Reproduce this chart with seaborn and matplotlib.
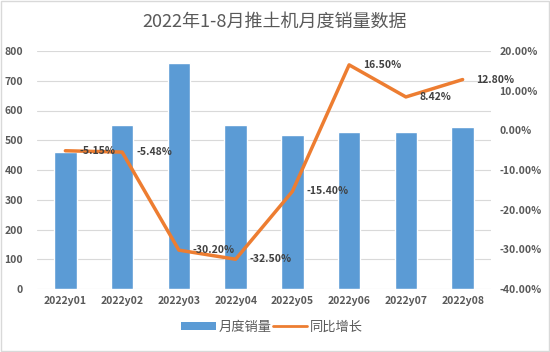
import matplotlib
matplotlib.use("Agg")
import matplotlib.pyplot as plt
import seaborn as sns
import pandas as pd
import numpy as np

months = ["2022y01", "2022y02", "2022y03", "2022y04", "2022y05", "2022y06", "2022y07", "2022y08"]
sales = [460, 551, 758, 550, 518, 529, 529, 545]
growth = [-5.15, -5.48, -30.20, -32.50, -15.40, 16.50, 8.42, 12.80]
growth_labels = ["-5.15%", "-5.48%", "-30.20%", "-32.50%", "-15.40%", "16.50%", "8.42%", "12.80%"]
left_ticks = [0, 100, 200, 300, 400, 500, 600, 700, 800]
right_ticks = [-40, -30, -20, -10, 0, 10, 20]

sns.set_theme(style="white")
plt.rcParams['font.family'] = ['Noto Sans CJK SC', 'DejaVu Sans']

df = pd.DataFrame({"month": months, "sales": sales, "growth": growth})

fig = plt.figure(figsize=(5.5, 3.52), dpi=100)
ax = fig.add_axes([37/550, (352-289)/352, (491-37)/550, (289-51)/352])

blue = "#5B9BD5"
orange = "#ED7D31"
grey_txt = "#595959"

sns.barplot(data=df, x="month", y="sales", color=blue, width=0.4, ax=ax, saturation=1, zorder=2)
ax.set_ylim(0, 800)
ax.set_yticks(left_ticks)
ax.set_xlim(-0.5, len(months) - 0.5)
ax.grid(axis="y", color="#D9D9D9", linewidth=0.8, zorder=0)
ax.set_axisbelow(True)
for s in ax.spines.values():
    s.set_visible(False)
ax.set_xlabel("")
ax.set_ylabel("")
ax.tick_params(axis="both", length=0, labelsize=7.5, labelcolor=grey_txt)
ax.tick_params(axis="y", pad=10)
ax.tick_params(axis="x", pad=5)
for lbl in ax.get_yticklabels() + ax.get_xticklabels():
    lbl.set_fontweight("bold")

ax2 = ax.twinx()
sns.lineplot(x=np.arange(len(months)), y=growth, ax=ax2, color=orange, linewidth=2.5, zorder=3)
ax2.set_ylim(-40, 20)
ax2.set_yticks(right_ticks)
ax2.set_yticklabels([f"{t:.2f}%" for t in right_ticks])
ax2.tick_params(axis="y", length=0, labelsize=7.5, labelcolor=grey_txt, pad=6)
for lbl in ax2.get_yticklabels():
    lbl.set_fontweight("bold")
for s in ax2.spines.values():
    s.set_visible(False)
ax2.set_ylabel("")
ax2.grid(False)

for i, (g, lab) in enumerate(zip(growth, growth_labels)):
    ax2.annotate(lab, (i, g), xytext=(10, 0), textcoords="offset points",
                 ha="left", va="center", fontsize=7.5, color="#404040", fontweight="bold")

fig.text(0.5, 1 - 22/352, "2022年1-8月推土机月度销量数据", ha="center", va="center",
         fontsize=13, color=grey_txt)

from matplotlib.patches import Patch
from matplotlib.lines import Line2D
handles = [Patch(facecolor=blue, edgecolor="none"), Line2D([0], [0], color=orange, linewidth=2)]
leg = fig.legend(handles, ["月度销量", "同比增长"], loc="center", bbox_to_anchor=(272/550, 1 - 327/352),
                 ncol=2, frameon=False, fontsize=9.5, handlelength=2.6, handleheight=0.5,
                 columnspacing=0.1, handletextpad=0.2)
for t in leg.get_texts():
    t.set_color(grey_txt)

fig.patches.append(plt.Rectangle((0.002, 0.003), 0.996, 0.994, transform=fig.transFigure,
                                 fill=False, edgecolor="#D9D9D9", linewidth=1))

fig.savefig("out.png", dpi=100)
